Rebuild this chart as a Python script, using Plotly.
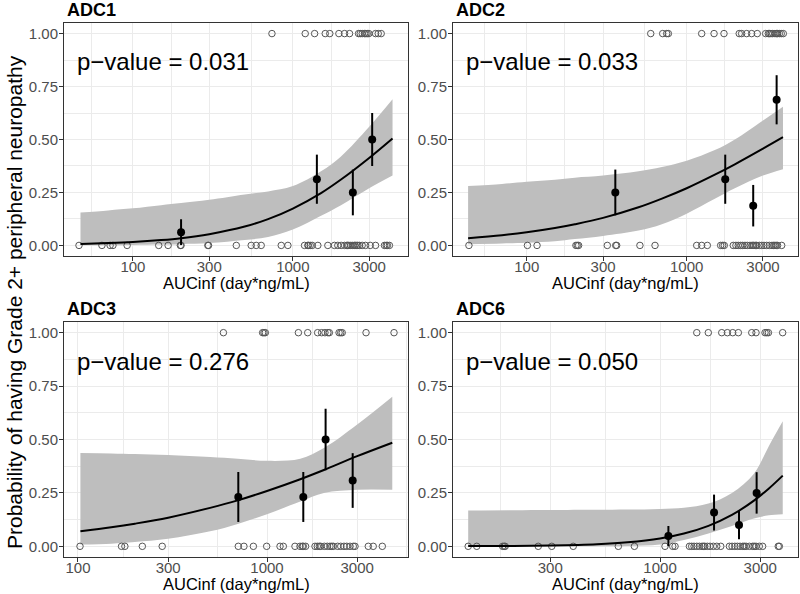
import plotly.graph_objects as go

W, H = 800, 594
FONT = "Liberation Sans, Arial, sans-serif"

# ---------------- data ----------------
# ADC1
adc1_resp_x = [740, 1195, 1368, 1594, 1702, 1940, 2105, 2262, 2575, 2638, 2715, 2806, 2860, 2917, 2986, 3288, 3418, 3567]
adc1_nonresp_x = [46, 64, 72, 75, 92, 145, 166, 198, 200, 294, 297, 443, 549, 590, 634, 846, 931, 1183, 1241, 1250,
                  1284, 1322, 1433, 1655, 1820, 1910, 2005, 2105, 2175, 2200, 2240, 2305, 2371, 2441, 2450, 2512,
                  2550, 2610, 2714, 2846, 3046, 3289, 3740, 3834, 3900, 4016]
adc1_bin_x = [200, 1413, 2372, 3133]
adc1_bin_p = [0.0625, 0.3125, 0.25, 0.5]
adc1_bin_se = [0.061, 0.116, 0.108, 0.125]
adc1_fit_x = [47, 70, 100, 150, 200, 300, 500, 700, 1000, 1500, 2000, 3000, 4200]
adc1_fit = [0.007, 0.011, 0.016, 0.025, 0.034, 0.053, 0.089, 0.124, 0.174, 0.247, 0.311, 0.413, 0.505]
adc1_lo = [0.001, 0.001, 0.002, 0.004, 0.006, 0.011, 0.025, 0.04, 0.075, 0.14, 0.19, 0.27, 0.33]
adc1_hi = [0.155, 0.165, 0.175, 0.19, 0.20, 0.215, 0.24, 0.255, 0.28, 0.35, 0.42, 0.56, 0.69]

# ADC2
adc2_resp_x = [596, 708, 750, 768, 1241, 1483, 1711, 2131, 2206, 2371, 2547, 2763, 3117, 3239, 3300, 3365, 3450,
               3565, 3651, 3700, 3796, 3900, 4019]
adc2_nonresp_x = [43.5, 101, 116, 203, 207, 211, 319, 360, 365, 510, 634, 1155, 1241, 1346, 1631, 1679, 1718, 1955,
                  2032, 2101, 2175, 2239, 2314, 2392, 2488, 2561, 2600, 2636, 2700, 2738, 2846, 2942, 3044, 3162,
                  3286, 3415, 3500, 3563, 3632, 3700, 3926]
adc2_bin_x = [358, 1742, 2606, 3651]
adc2_bin_p = [0.25, 0.3125, 0.1875, 0.6875]
adc2_bin_se = [0.108, 0.116, 0.098, 0.116]
adc2_fit_x = [43, 70, 100, 150, 200, 300, 500, 700, 1000, 1500, 2000, 3000, 4000]
adc2_fit = [0.034, 0.048, 0.062, 0.082, 0.100, 0.130, 0.180, 0.221, 0.270, 0.334, 0.383, 0.457, 0.511]
adc2_lo = [0.005, 0.009, 0.013, 0.02, 0.03, 0.045, 0.07, 0.10, 0.15, 0.22, 0.27, 0.33, 0.36]
adc2_hi = [0.28, 0.29, 0.30, 0.31, 0.32, 0.33, 0.35, 0.37, 0.40, 0.45, 0.50, 0.59, 0.655]

# ADC3
adc3_resp_x = [588, 948, 964, 980, 1466, 1642, 1853, 1946, 2026, 2100, 2137, 2406, 2455, 2500, 3342, 4700]
adc3_nonresp_x = [102.5, 170, 177, 219, 279, 705, 755, 847, 996, 1172, 1220, 1406, 1495, 1538, 1556, 1600, 1795,
                  1846, 1892, 1923, 2011, 2085, 2153, 2200, 2243, 2365, 2455, 2555, 2641, 2750, 2862, 2922, 3435,
                  3648, 4074]
adc3_bin_x = [705, 1556, 2042, 2840]
adc3_bin_p = [0.231, 0.231, 0.5, 0.308]
adc3_bin_se = [0.117, 0.117, 0.144, 0.128]
adc3_fit_x = [103, 150, 200, 300, 500, 700, 1000, 1500, 2000, 3000, 4600]
adc3_fit = [0.070, 0.089, 0.106, 0.134, 0.180, 0.215, 0.259, 0.314, 0.357, 0.422, 0.485]
adc3_lo = [0.008, 0.012, 0.02, 0.035, 0.07, 0.105, 0.15, 0.21, 0.25, 0.265, 0.265]
adc3_hi = [0.437, 0.435, 0.432, 0.427, 0.418, 0.41, 0.40, 0.41, 0.46, 0.57, 0.70]

# ADC6
adc6_resp_x = [1496, 1698, 1967, 2093, 2218, 2360, 2734, 2865, 3162, 3222, 3282, 3837]
adc6_nonresp_x = [122, 134, 178, 181, 183, 263, 305, 386, 633, 755, 1056, 1149, 1179, 1380, 1415, 1452, 1496, 1540,
                  1585, 1610, 1633, 1680, 1730, 1795, 1862, 1946, 2139, 2203, 2270, 2336, 2405, 2476, 2520, 2570,
                  2663, 2761, 2810, 2865, 2970, 3080, 3656, 3700]
adc6_bin_x = [1096, 1808, 2377, 2884]
adc6_bin_p = [0.048, 0.158, 0.10, 0.25]
adc6_bin_se = [0.047, 0.084, 0.067, 0.097]
adc6_fit_x = [122, 200, 300, 500, 700, 1000, 1300, 1700, 2200, 2800, 3300, 3840]
adc6_fit = [0.001, 0.002, 0.004, 0.010, 0.019, 0.037, 0.060, 0.096, 0.147, 0.214, 0.271, 0.331]
adc6_lo = [0.0, 0.0, 0.0, 0.0005, 0.002, 0.008, 0.03, 0.06, 0.095, 0.13, 0.145, 0.15]
adc6_hi = [0.168, 0.169, 0.170, 0.171, 0.172, 0.175, 0.18, 0.20, 0.25, 0.34, 0.47, 0.585]

panel_titles = ["ADC1", "ADC2", "ADC3", "ADC6"]
p_values = ["0.031", "0.033", "0.276", "0.050"]
x_ticks = [100, 300, 1000, 3000]
x_minor = [17.32, 54.77, 173.2, 547.7, 1732, 5477]
y_ticks = [0, 0.25, 0.5, 0.75, 1.0]
y_ticklabels = ["0.00", "0.25", "0.50", "0.75", "1.00"]
y_minor = [0.125, 0.375, 0.625, 0.875]
x_title = "AUCinf (day*ng/mL)"
y_title = "Probability of having Grade 2+ peripheral neuropathy"

panels = [
    dict(resp=adc1_resp_x, non=adc1_nonresp_x, bx=adc1_bin_x, bp=adc1_bin_p, bse=adc1_bin_se,
         fx=adc1_fit_x, f=adc1_fit, lo=adc1_lo, hi=adc1_hi),
    dict(resp=adc2_resp_x, non=adc2_nonresp_x, bx=adc2_bin_x, bp=adc2_bin_p, bse=adc2_bin_se,
         fx=adc2_fit_x, f=adc2_fit, lo=adc2_lo, hi=adc2_hi),
    dict(resp=adc3_resp_x, non=adc3_nonresp_x, bx=adc3_bin_x, bp=adc3_bin_p, bse=adc3_bin_se,
         fx=adc3_fit_x, f=adc3_fit, lo=adc3_lo, hi=adc3_hi),
    dict(resp=adc6_resp_x, non=adc6_nonresp_x, bx=adc6_bin_x, bp=adc6_bin_p, bse=adc6_bin_se,
         fx=adc6_fit_x, f=adc6_fit, lo=adc6_lo, hi=adc6_hi),
]

# ---------------- layout geometry (pixels) ----------------
boxes = [  # left, right, top, bottom
    (64, 408, 23, 256),
    (453, 798, 23, 256),
    (64, 408, 322, 557),
    (453, 798, 322, 557),
]
x_ranges = [(1.569, 3.72), (1.539, 3.696), (1.926, 3.746), (2.014, 3.657)]

GRID = "#EBEBEB"
BORDER = "#333333"
TICKFONT = dict(family=FONT, size=15, color="#4D4D4D")

fig = go.Figure()
layout = dict(
    width=W, height=H, margin=dict(l=0, r=0, t=0, b=0, pad=0, autoexpand=False),
    paper_bgcolor="white", plot_bgcolor="white", showlegend=False,
    font=dict(family=FONT),
)
annotations = []

for i, (p, box, xr) in enumerate(zip(panels, boxes, x_ranges)):
    n = "" if i == 0 else str(i + 1)
    xa, ya = "x" + n, "y" + n
    l, r, t, b = box
    layout["xaxis" + n] = dict(
        domain=[l / W, r / W], anchor=ya, type="log", range=list(xr), automargin=False,
        tickmode="array", tickvals=x_ticks, ticktext=[str(v) for v in x_ticks],
        ticks="outside", ticklen=4, tickcolor=BORDER, tickwidth=1, ticklabelstandoff=-7,
        showline=True, mirror=True, linecolor=BORDER, linewidth=1,
        showgrid=True, gridcolor=GRID, gridwidth=1, zeroline=False,
        tickfont=TICKFONT,
        minor=dict(tickmode="array", tickvals=x_minor, showgrid=True, gridcolor=GRID, gridwidth=0.5, ticks=""),
    )
    layout["yaxis" + n] = dict(
        domain=[1 - b / H, 1 - t / H], anchor=xa, range=[-0.05, 1.05], automargin=False,
        tickmode="array", tickvals=y_ticks, ticktext=y_ticklabels,
        ticks="outside", ticklen=4, tickcolor=BORDER, tickwidth=1, ticklabelstandoff=-2,
        showline=True, mirror=True, linecolor=BORDER, linewidth=1,
        showgrid=True, gridcolor=GRID, gridwidth=1, zeroline=False,
        tickfont=TICKFONT,
        minor=dict(tickmode="array", tickvals=y_minor, showgrid=True, gridcolor=GRID, gridwidth=0.5, ticks=""),
    )

    # confidence ribbon
    fig.add_trace(go.Scatter(x=p["fx"], y=p["lo"], mode="lines", line=dict(width=0, shape="spline", color="#BEBEBE"),
                             xaxis=xa, yaxis=ya, hoverinfo="skip"))
    fig.add_trace(go.Scatter(x=p["fx"], y=p["hi"], mode="lines", line=dict(width=0, shape="spline", color="#BEBEBE"),
                             fill="tonexty", fillcolor="#BEBEBE", xaxis=xa, yaxis=ya, hoverinfo="skip"))
    # individual observations
    fig.add_trace(go.Scatter(x=p["non"], y=[0] * len(p["non"]), mode="markers",
                             marker=dict(symbol="circle-open", size=6.5, color="#555555", line=dict(width=1)),
                             xaxis=xa, yaxis=ya))
    fig.add_trace(go.Scatter(x=p["resp"], y=[1] * len(p["resp"]), mode="markers",
                             marker=dict(symbol="circle-open", size=6.5, color="#555555", line=dict(width=1)),
                             xaxis=xa, yaxis=ya))
    # fitted curve
    fig.add_trace(go.Scatter(x=p["fx"], y=p["f"], mode="lines", line=dict(color="black", width=2, shape="spline"),
                             xaxis=xa, yaxis=ya))
    # binned observed proportions
    fig.add_trace(go.Scatter(x=p["bx"], y=p["bp"], mode="markers",
                             marker=dict(size=8, color="black"),
                             error_y=dict(type="data", array=p["bse"], visible=True, thickness=2, width=0, color="black"),
                             xaxis=xa, yaxis=ya))

    # panel title
    annotations.append(dict(text="<b>" + panel_titles[i] + "</b>", xref="paper", yref="paper",
                            x=(l + 1) / W, y=1 - (t - 13) / H, xanchor="left", yanchor="middle",
                            showarrow=False, font=dict(family=FONT, size=18, color="black")))
    # p-value
    annotations.append(dict(text="p\u2212value = " + p_values[i], xref="paper", yref="paper",
                            x=(l + 11) / W, y=1 - (t + 39) / H, xanchor="left", yanchor="middle",
                            showarrow=False, font=dict(family=FONT, size=24, color="black")))
    # x-axis title
    annotations.append(dict(text=x_title, xref="paper", yref="paper",
                            x=((l + r) / 2) / W, y=1 - (b + 27) / H, xanchor="center", yanchor="middle",
                            showarrow=False, font=dict(family=FONT, size=16.5, color="black")))

annotations.append(dict(text=y_title, xref="paper", yref="paper", x=14 / W, y=1 - 302 / H,
                        xanchor="center", yanchor="middle", textangle=-90, showarrow=False,
                        font=dict(family=FONT, size=21, color="black")))
layout["annotations"] = annotations
fig.update_layout(**layout)

fig.write_html("out.html", config={"displayModeBar": False},
               post_script="document.body.style.margin='0';document.body.style.padding='0';")
